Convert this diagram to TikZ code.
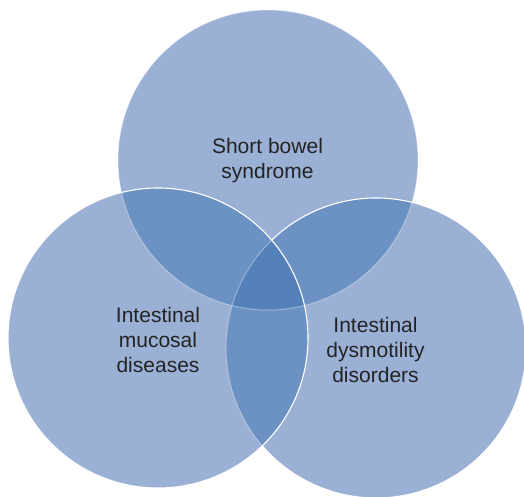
\documentclass[tikz,border=0pt]{standalone}
\usepackage{fontspec}
\setmainfont{Liberation Sans}
\definecolor{vlight}{RGB}{155,176,213}
\definecolor{vmid}{RGB}{108,146,195}
\definecolor{vdark}{RGB}{84,129,185}
\definecolor{vtext}{RGB}{35,35,35}
\begin{document}
\begin{tikzpicture}[x=1pt,y=-1pt,
  vtxt/.style={font=\fontsize{21}{25}\selectfont, text=vtext, align=center, inner sep=0pt},
  edgeline/.style={draw=white, line width=1.1pt},
  faintline/.style={draw=white, draw opacity=0.35, line width=1pt}]
\useasboundingbox (0,0) rectangle (524,497);
\coordinate (T) at (268,160);
\coordinate (L) at (158,338);
\coordinate (R) at (376,348);
\def\rr{150}
% base fills
\fill[vlight] (T) circle[radius=\rr];
\fill[vlight] (L) circle[radius=\rr];
\fill[vlight] (R) circle[radius=\rr];
\begin{scope}
  \clip (T) circle[radius=\rr];
  \fill[vmid] (L) circle[radius=\rr];
  \fill[vmid] (R) circle[radius=\rr];
\end{scope}
\begin{scope}
  \clip (L) circle[radius=\rr];
  \fill[vmid] (R) circle[radius=\rr];
\end{scope}
\begin{scope}
  \clip (T) circle[radius=\rr];
  \clip (L) circle[radius=\rr];
  \fill[vdark] (R) circle[radius=\rr];
\end{scope}
% outlines: top, right, then left on top
\draw[faintline] (T) circle[radius=\rr];
\draw[edgeline] (R) circle[radius=\rr];
\begin{scope}
  \clip (L) circle[radius=\rr];
  \fill[vlight] (L) circle[radius=\rr];
  \fill[vmid] (T) circle[radius=\rr];
  \fill[vmid] (R) circle[radius=\rr];
  \begin{scope}
    \clip (T) circle[radius=\rr];
    \fill[vdark] (R) circle[radius=\rr];
  \end{scope}
  \draw[faintline] (T) circle[radius=\rr];
  \draw[faintline] (R) circle[radius=\rr];
\end{scope}
\draw[edgeline] (L) circle[radius=\rr];
% labels
\node[vtxt] (sbs) at (267.5,161) {Short bowel\\syndrome};
\node[vtxt] (imd) at (158,340) {Intestinal\\mucosal\\diseases};
\node[vtxt] (idd) at (375.5,349.5) {Intestinal\\dysmotility\\disorders};
\end{tikzpicture}
\end{document}
